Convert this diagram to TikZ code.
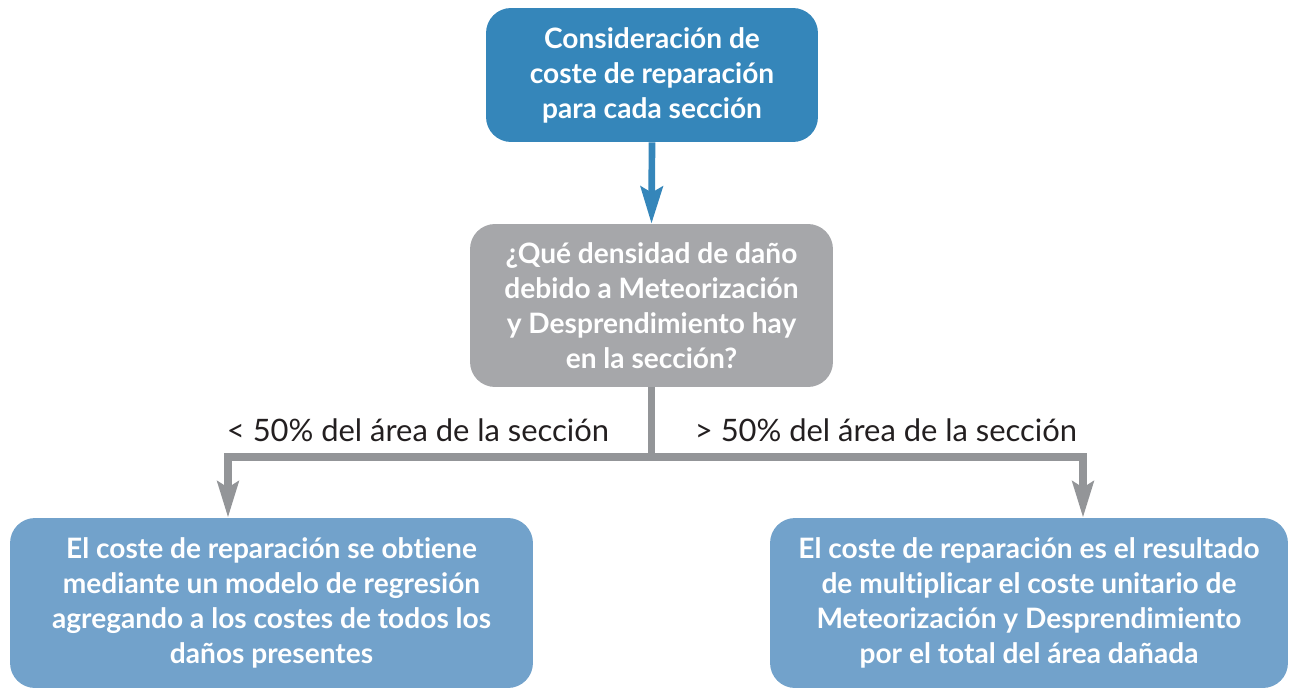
\documentclass[tikz,border=0pt]{standalone}
\usepackage{fontspec}
\setmainfont{Lato}[Ligatures=NoCommon]
\usetikzlibrary{arrows.meta}
\definecolor{topblue}{HTML}{3586BA}
\definecolor{boxgrey}{HTML}{A6A7AA}
\definecolor{lightblue}{HTML}{72A2CB}
\definecolor{linegrey}{HTML}{939598}
\definecolor{labeltext}{HTML}{231F20}
\tikzset{
  box/.style={rounded corners=0.5cm, align=center, text=white, font=\bfseries\fontsize{16}{19.9}\selectfont, inner sep=0pt},
  greyline/.style={draw=linegrey, line width=4.5pt, -{Stealth[length=0.72cm, width=0.42cm, inset=0.12cm]}},
  blueline/.style={draw=topblue, line width=3.8pt, -{Stealth[length=0.74cm, width=0.44cm, inset=0.12cm]}},
  caselabel/.style={text=labeltext, font=\fontsize{17.6}{20}\selectfont}
}
\begin{document}
\begin{tikzpicture}[x=0.02cm, y=-0.02cm]
\useasboundingbox (0,0) rectangle (1292,689);
\node[box, fill=topblue, minimum width=6.64cm, minimum height=2.68cm] (consid) at (652,75)
  {Consideración de\\coste de reparación\\para cada sección}; %top
\node[box, fill=boxgrey, minimum width=7.26cm, minimum height=3.26cm] (densidad) at (651.5,305.5)
  {¿Qué densidad de daño\\debido a Meteorización\\y Desprendimiento hay\\en la sección?}; %question
\node[box, fill=lightblue, minimum width=10.46cm, minimum height=3.4cm] (regresion) at (271.5,603)
  {El coste de reparación se obtiene\\mediante un modelo de regresión\\agregando a los costes de todos los\\daños presentes}; %left
\node[box, fill=lightblue, minimum width=10.36cm, minimum height=3.4cm] (unitario) at (1029,603)
  {El coste de reparación es el resultado\\de multiplicar el coste unitario de\\Meteorización y Desprendimiento\\por el total del área dañada}; %right
\coordinate (lturn) at (228,457);
\coordinate (rturn) at (1083,457);
\draw[blueline] (consid.south) -- (densidad.north);
\draw[greyline] (densidad.south) |- (lturn) -- (lturn |- regresion.north);
\draw[greyline] (densidad.south) |- (rturn) -- (rturn |- unitario.north);
\node[caselabel] (menos) at (418,430) {< 50\% del área de la sección};
\node[caselabel] (mas) at (886,430) {> 50\% del área de la sección};
\end{tikzpicture}
\end{document}
